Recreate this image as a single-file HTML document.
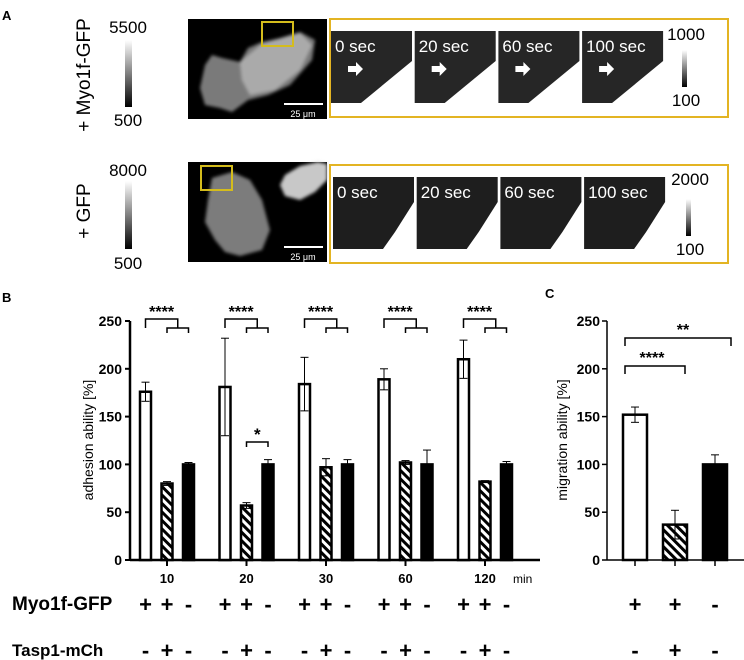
<!DOCTYPE html>
<html><head><meta charset="utf-8"><style>
html,body{margin:0;padding:0;background:#fff}
svg{display:block;font-family:"Liberation Sans",Arial,sans-serif}
</style></head><body>
<svg id="fig" width="744" height="660" viewBox="0 0 744 660" xmlns="http://www.w3.org/2000/svg">
<defs>
<pattern id="hatch" patternUnits="userSpaceOnUse" width="6" height="6" patternTransform="rotate(45)">
<rect width="6" height="6" fill="#fff"/><rect width="6" height="3" fill="#000"/></pattern>
<linearGradient id="cbar" x1="0" y1="0" x2="0" y2="1"><stop offset="0" stop-color="#fff"/><stop offset="1" stop-color="#000"/></linearGradient>
<filter id="blur1"><feGaussianBlur stdDeviation="1.5"/></filter>
</defs>

<!-- Panel A -->
<text x="2" y="20" font-size="13" font-weight="bold">A</text>
<g>
<text transform="translate(90,75) rotate(-90)" text-anchor="middle" font-size="19">+ Myo1f-GFP</text>
<text x="128" y="33" text-anchor="middle" font-size="17">5500</text>
<rect x="125" y="40" width="7" height="67" fill="url(#cbar)"/>
<text x="128" y="126" text-anchor="middle" font-size="17">500</text>
<g>
<rect x="188" y="19" width="139" height="100" fill="#000"/>
<g filter="url(#blur1)">
<path d="M205 65 L212 55 L222 58 L240 62 L248 48 L262 42 L280 38 L300 32 L315 40 L312 60 L290 85 L268 95 L248 100 L232 112 L220 108 L205 105 L200 88 Z" fill="#7a7a7a"/>
<path d="M240 62 L262 44 L300 33 L312 45 L300 70 L275 90 L250 95 L242 80 Z" fill="#aaaaaa"/>
</g>
<rect x="262" y="22" width="31" height="24" fill="none" stroke="#d4bc1c" stroke-width="2"/>
<line x1="284" y1="104" x2="323" y2="104" stroke="#fff" stroke-width="2"/>
<text x="303" y="117" text-anchor="middle" font-size="9" fill="#fff">25 μm</text>
</g>
<rect x="330" y="19" width="398" height="98" fill="none" stroke="#e3b423" stroke-width="2"/>
<g id="tilesTop"></g>
<text x="686" y="40" text-anchor="middle" font-size="17">1000</text>
<rect x="682" y="50" width="5" height="37" fill="url(#cbar)"/>
<text x="686" y="106" text-anchor="middle" font-size="17">100</text>
</g>

<g>
<text transform="translate(90,211) rotate(-90)" text-anchor="middle" font-size="19">+ GFP</text>
<text x="128" y="176" text-anchor="middle" font-size="17">8000</text>
<rect x="125" y="181" width="7" height="68" fill="url(#cbar)"/>
<text x="128" y="269" text-anchor="middle" font-size="17">500</text>
<g>
<rect x="188" y="162" width="139" height="100" fill="#000"/>
<g filter="url(#blur1)">
<path d="M212 178 L232 172 L250 180 L262 200 L270 230 L262 250 L240 256 L225 252 L215 240 L205 222 L208 200 Z" fill="#7c7c7c"/>
<path d="M285 175 L300 166 L318 162 L327 164 L327 180 L315 192 L300 200 L285 196 L280 185 Z" fill="#c8c8c8"/>
</g>
<rect x="201" y="166" width="31" height="24" fill="none" stroke="#d4bc1c" stroke-width="2"/>
<line x1="284" y1="247" x2="323" y2="247" stroke="#fff" stroke-width="2"/>
<text x="303" y="260" text-anchor="middle" font-size="9" fill="#fff">25 μm</text>
</g>
<rect x="330" y="165" width="398" height="98" fill="none" stroke="#e3b423" stroke-width="2"/>
<g id="tilesBot"></g>
<text x="690" y="185" text-anchor="middle" font-size="17">2000</text>
<rect x="686" y="199" width="5" height="37" fill="url(#cbar)"/>
<text x="690" y="255" text-anchor="middle" font-size="17">100</text>
</g>

<!-- Panel B -->
<text x="2" y="302" font-size="13" font-weight="bold">B</text>
<g id="chartB"></g>
<text transform="translate(93,440) rotate(-90)" text-anchor="middle" font-size="14">adhesion ability  [%]</text>
<text x="12" y="610" font-size="19" font-weight="bold">Myo1f-GFP</text>
<text x="12" y="656" font-size="17" font-weight="bold">Tasp1-mCh</text>

<!-- Panel C -->
<text x="545" y="298" font-size="13" font-weight="bold">C</text>
<g id="chartC"></g>
<text transform="translate(567,440) rotate(-90)" text-anchor="middle" font-size="14">migration ability [%]</text>
</svg>
<script>
const groupsB = ["10","20","30","60","120"];
const whiteB = [176,181,184,189,210];
const whiteErrB = [10,51,28,11,20];
const hatchB = [80,57,97,102,82];
const hatchErrB = [2,3,9,2,1];
const blackB = [100,100,100,100,100];
const blackErrB = [2,5,5,15,3];
const ticksY = [0,50,100,150,200,250];
const myoSigns = ["+","+","-"];
const taspSigns = ["-","+","-"];
const catsC = ["Myo1f-GFP","Myo1f-GFP+Tasp1-mCh","control"];
const valsC = [152,37,100];
const errC = [8,15,10];
const timesTop = ["0 sec","20 sec","60 sec","100 sec"];

const NS="http://www.w3.org/2000/svg";
function mk(parent,tag,attrs,text){const e=document.createElementNS(NS,tag);for(const k in attrs)e.setAttribute(k,attrs[k]);if(text!==undefined)e.textContent=text;parent.appendChild(e);return e;}

function tiles(gid,x0,y0,arrows){
  const g=document.getElementById(gid);
  timesTop.forEach((t,i)=>{
    const x=x0+i*83.7;
    const tg=mk(g,'g',{});
    
    
    if(arrows){
      mk(tg,'path',{d:`M${x} ${y0} h81 v30 L${x+30} ${y0+72} H${x} Z`,fill:'#262626'});
    } else {
      mk(tg,'path',{d:`M${x} ${y0} h81 v25 L${x+62} ${y0+55} L${x+50} ${y0+72} H${x} Z`,fill:'#1e1e1e'});
    }
    const tx=mk(tg,'text',{x:x+4,y:y0+21,'font-size':17,fill:'#fff'},t);
    
    
    if(arrows){
      const ax=x+17,ay=y0+38;
      mk(tg,'path',{d:`M${ax} ${ay-3} h8 v-4 l7 7 l-7 7 v-4 h-8 Z`,fill:'#fff'});
    }
  });
}
tiles('tilesTop',331,31,true);
tiles('tilesBot',333,177,false);

const gB=document.getElementById('chartB');
const y0=560, ppu=239/250;
function yB(v){return y0-v*ppu;}
const axisX=130;
function xB(gi,bi){return 139+gi*79.5+bi*21.5;}
const bw=13;
mk(gB,'line',{x1:axisX,y1:yB(0),x2:axisX,y2:yB(250),stroke:'#000','stroke-width':2.5});
mk(gB,'line',{x1:axisX,y1:yB(0),x2:540,y2:yB(0),stroke:'#000','stroke-width':2.5});
ticksY.forEach(v=>{
  mk(gB,'line',{x1:axisX-5,y1:yB(v),x2:axisX,y2:yB(v),stroke:'#000','stroke-width':2});
  const t=mk(gB,'text',{x:axisX-8,y:yB(v)+5,'text-anchor':'end','font-size':14,'font-weight':'bold'},v);
  
  
});
function bar(g,x,w,v,e,fill,ys){
  const r=mk(g,'rect',{x:x+1,y:ys(v),width:w-2,height:ys(0)-ys(v),fill:fill,stroke:'#000','stroke-width':2.5});
  
  
  const cx=x+w/2;
  mk(g,'line',{x1:cx,y1:ys(v-e),x2:cx,y2:ys(v+e),stroke:'#000','stroke-width':1});
  mk(g,'line',{x1:cx-4,y1:ys(v+e),x2:cx+4,y2:ys(v+e),stroke:'#000','stroke-width':1});
  mk(g,'line',{x1:cx-4,y1:ys(v-e),x2:cx+4,y2:ys(v-e),stroke:'#000','stroke-width':1});
}
groupsB.forEach((lab,i)=>{
  const g=mk(gB,'g',{});
  
  
  bar(g,xB(i,0),bw,whiteB[i],whiteErrB[i],'#fff',yB);
  bar(g,xB(i,1),bw,hatchB[i],hatchErrB[i],'url(#hatch)',yB);
  bar(g,xB(i,2),bw,blackB[i],blackErrB[i],'#000',yB);
  const c0=xB(i,0)+bw/2,c1=xB(i,1)+bw/2,c2=xB(i,2)+bw/2,m=(c1+c2)/2;
  mk(g,'line',{x1:c1,y1:yB(0),x2:c1,y2:yB(0)+6,stroke:'#000','stroke-width':2});
  mk(g,'path',{d:`M${c0} 328 V319 H${m} V328 M${c1} 333 V328 H${c2} V333`,fill:'none',stroke:'#000','stroke-width':1.5});
  const s=mk(g,'text',{x:(c0+m)/2,y:317,'text-anchor':'middle','font-size':16,'font-weight':'bold'},'****');
  
  
  const t=mk(g,'text',{x:c1,y:583,'text-anchor':'middle','font-size':13,'font-weight':'bold'},lab);
  
  
  for(let b=0;b<3;b++){
    const cx=xB(i,b)+bw/2;
    const p=mk(g,'text',{x:cx,y:612,'text-anchor':'middle','font-size':22,'font-weight':'bold'},myoSigns[b]);
    
    
    const q=mk(g,'text',{x:cx,y:658,'text-anchor':'middle','font-size':22,'font-weight':'bold'},taspSigns[b]);
    
    
  }
  if(lab==="20"){
    mk(g,'path',{d:`M${c1} 447 V442 H${c2} V447`,fill:'none',stroke:'#000','stroke-width':1.5});
    const st=mk(g,'text',{x:m,y:440,'text-anchor':'middle','font-size':17,'font-weight':'bold'},'*');
    
    
  }
});
const mn=mk(gB,'text',{x:513,y:583,'font-size':12},'min');



const gC=document.getElementById('chartC');
const axC=607;
function xC(i){return 622+i*40;}
const bwC=26;
mk(gC,'line',{x1:axC,y1:yB(0),x2:axC,y2:yB(250),stroke:'#000','stroke-width':1.5});
mk(gC,'line',{x1:axC,y1:yB(0),x2:744,y2:yB(0),stroke:'#000','stroke-width':1.5});
ticksY.forEach(v=>{
  mk(gC,'line',{x1:axC-5,y1:yB(v),x2:axC,y2:yB(v),stroke:'#000','stroke-width':1.5});
  const t=mk(gC,'text',{x:axC-7,y:yB(v)+5,'text-anchor':'end','font-size':14,'font-weight':'bold'},v);
  
  
});
const fillsC=['#fff','url(#hatch)','#000'];
catsC.forEach((c,i)=>{
  bar(gC,xC(i),bwC,valsC[i],errC[i],fillsC[i],yB);
  const cx=xC(i)+bwC/2;
  mk(gC,'line',{x1:cx,y1:yB(0),x2:cx,y2:yB(0)+6,stroke:'#000','stroke-width':1.5});
  const p=mk(gC,'text',{x:cx,y:612,'text-anchor':'middle','font-size':22,'font-weight':'bold'},myoSigns[i]);
  
  
  const q=mk(gC,'text',{x:cx,y:658,'text-anchor':'middle','font-size':22,'font-weight':'bold'},taspSigns[i]);
  
  
});
const c0=xC(0)+bwC/2-10,c1=xC(1)+bwC/2+10,c2=xC(2)+bwC/2+16;
mk(gC,'path',{d:`M${c0} 346 V338 H${c2} V346`,fill:'none',stroke:'#000','stroke-width':1.5});
mk(gC,'path',{d:`M${c0} 374 V366 H${c1} V374`,fill:'none',stroke:'#000','stroke-width':1.5});
const s1=mk(gC,'text',{x:683,y:335,'text-anchor':'middle','font-size':16,'font-weight':'bold'},'**');


const s2=mk(gC,'text',{x:652,y:363,'text-anchor':'middle','font-size':16,'font-weight':'bold'},'****');


</script>
</body></html>
